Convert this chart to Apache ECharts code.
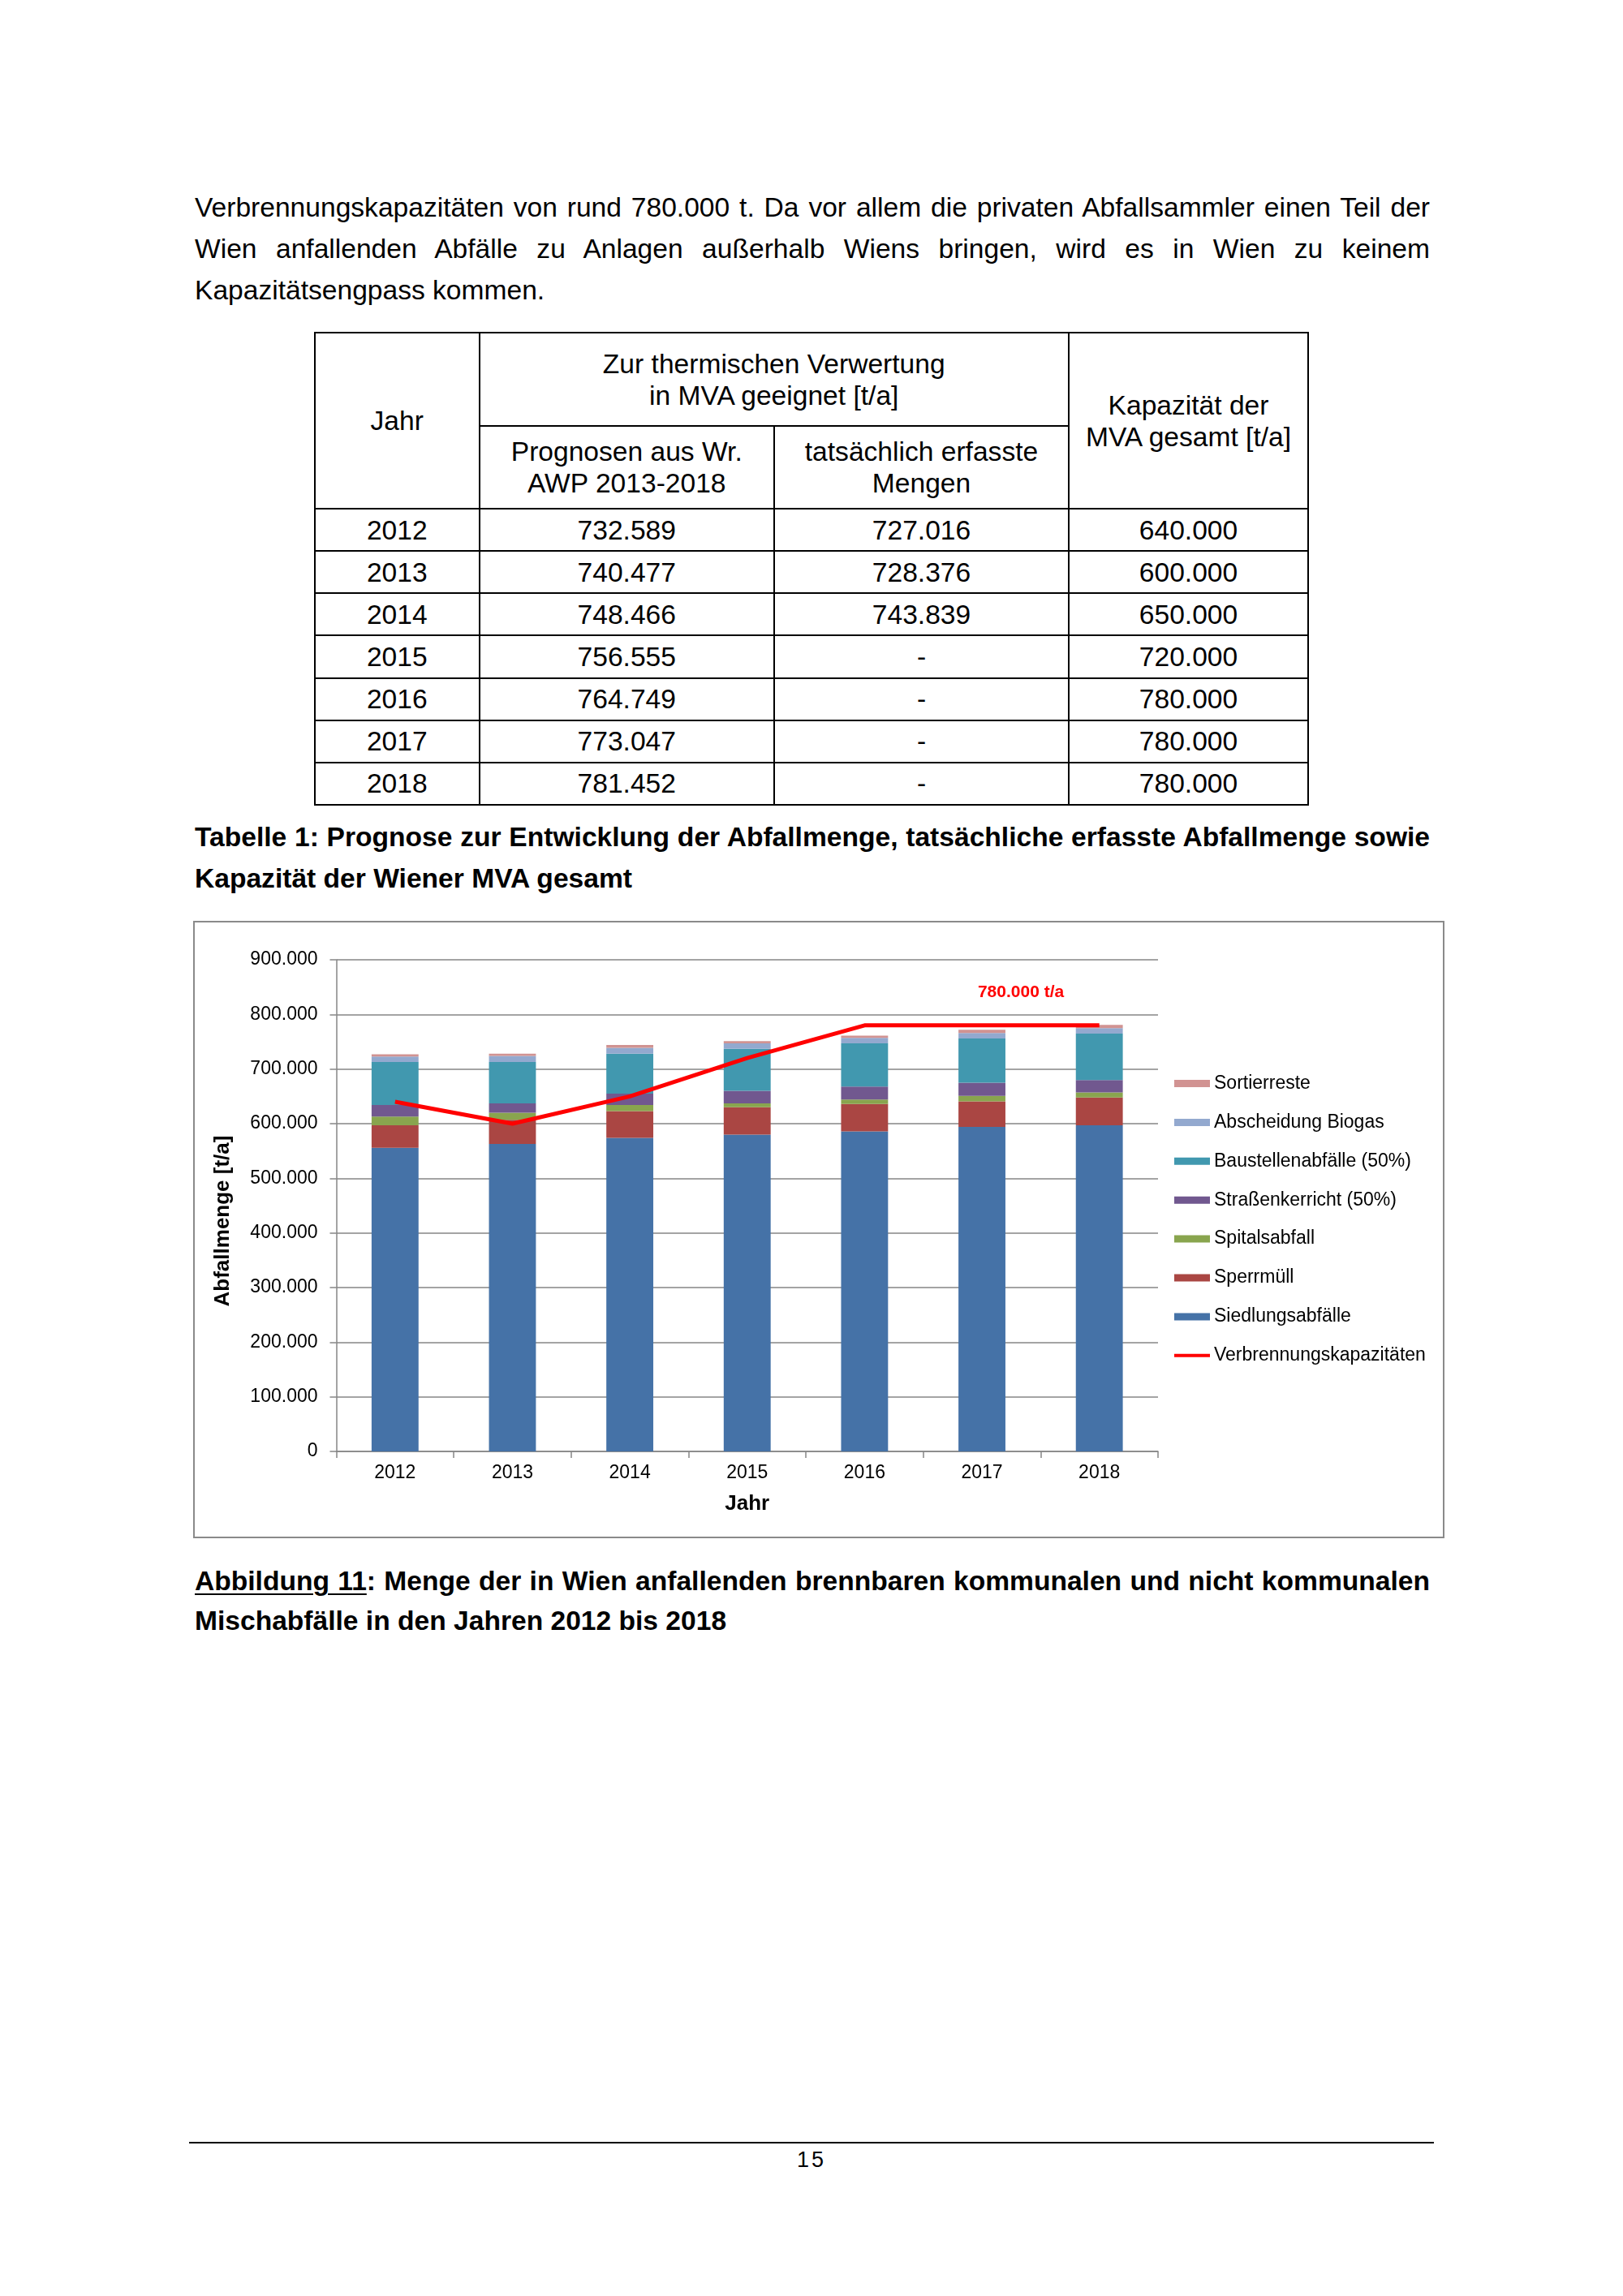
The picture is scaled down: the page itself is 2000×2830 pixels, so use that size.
<!DOCTYPE html>
<html>
<head>
<meta charset="utf-8">
<script src="https://cdn.jsdelivr.net/npm/echarts@6.0.0/dist/echarts.min.js"></script>
<style>
  html, body { margin: 0; padding: 0; background: #fff; }
  #page { position: relative; width: 2000px; height: 2830px; background: #fff; overflow: hidden;
          font-family: "Liberation Sans", Arial, Helvetica, sans-serif; color: #000; }
  .para { position: absolute; left: 240px; width: 1522px; font-size: 33.6px; line-height: 51px; }
  .jl { text-align: justify; text-align-last: justify; white-space: normal; }
  .ll { text-align: left; }
  .bold { font-weight: bold; }
  .hl { position: absolute; height: 2px; background: #000; }
  .vl { position: absolute; width: 2px; background: #000; }
  .cell { position: absolute; display: flex; align-items: center; justify-content: center;
          text-align: center; font-size: 33.6px; line-height: 39px; }
  #frame { position: absolute; left: 238px; top: 1135px; width: 1542px; height: 761px;
           box-sizing: border-box; border: 2px solid #8a8a8a; pointer-events: none; }
  #chart { position: absolute; left: 238px; top: 1135px; width: 1542px; height: 761px; }
</style>
</head>
<body>
<div id="page">
  <div class="para" style="top:230px;">
    <div class="jl">Verbrennungskapazitäten von rund 780.000 t. Da vor allem die privaten Abfallsammler einen Teil der</div>
    <div class="jl">Wien anfallenden Abfälle zu Anlagen außerhalb Wiens bringen, wird es in Wien zu keinem</div>
    <div class="ll">Kapazitätsengpass kommen.</div>
  </div>

  <div id="table"></div>

  <div class="para bold" style="top:1006px;">
    <div class="jl" style="word-spacing:-3px;">Tabelle 1: Prognose zur Entwicklung der Abfallmenge, tatsächliche erfasste Abfallmenge sowie</div>
    <div class="ll">Kapazität der Wiener MVA gesamt</div>
  </div>

  <div id="chart"></div>
  <div id="frame"></div>

  <div class="para bold" style="top:1924px; line-height:49px;">
    <div class="jl" style="word-spacing:-3px;"><span style="text-decoration:underline; text-decoration-thickness:2px; text-underline-offset:4px;">Abbildung 11</span>: Menge der in Wien anfallenden brennbaren kommunalen und nicht kommunalen</div>
    <div class="ll">Mischabfälle in den Jahren 2012 bis 2018</div>
  </div>

  <div class="hl" style="left:233px; top:2640px; width:1534px;"></div>
  <div style="position:absolute; left:900px; width:200px; top:2645px; text-align:center; font-size:27px; line-height:34px; letter-spacing:3px;">15</div>
</div>

<script>
// ---------- Data ----------
const years = ['2012', '2013', '2014', '2015', '2016', '2017', '2018'];

// stacked bar segments [t/a]
const siedlungsabfaelle  = [556000, 563000, 574000, 580000, 586000, 594000, 597000];
const sperrmuell         = [41000, 44000, 49000, 50000, 50000, 47000, 51000];
const spitalsabfall      = [16000, 13000, 11000, 7000, 8000, 10000, 9000];
const strassenkehricht   = [21000, 17000, 21000, 23000, 24000, 24000, 23000];
const baustellenabfaelle = [79000, 76000, 73000, 77000, 79000, 81000, 85000];
const abscheidungBiogas  = [10000, 11000, 11000, 10000, 10000, 10000, 10000];
const sortierreste       = [4000, 4000, 5000, 4000, 4000, 6000, 6000];

// Verbrennungskapazitäten [t/a]
const kapazitaet = [640000, 600000, 650000, 720000, 780000, 780000, 780000];

// table columns
const prognosen = ['732.589', '740.477', '748.466', '756.555', '764.749', '773.047', '781.452'];
const erfasst   = ['727.016', '728.376', '743.839', '-', '-', '-', '-'];

const yTicks = { min: 0, max: 900000, interval: 100000 };
const capLabel = '780.000 t/a';

// ---------- helpers ----------
function fmt(v) { return String(v).replace(/\B(?=(\d{3})+(?!\d))/g, '.'); }

// ---------- table ----------
(function buildTable() {
  const t = document.getElementById('table');
  const X = [388, 590.5, 954, 1317, 1612];
  const yTop = 410, ySplit = 525, yHead = 627;
  const rowH = (992 - yHead) / years.length;
  const yBottom = yHead + rowH * years.length;
  let html = '';
  function h(x1, x2, y) { html += `<div class="hl" style="left:${x1 - 1}px;top:${y - 1}px;width:${x2 - x1 + 2}px"></div>`; }
  function v(x, y1, y2) { html += `<div class="vl" style="left:${x - 1}px;top:${y1 - 1}px;height:${y2 - y1 + 2}px"></div>`; }
  function c(x1, x2, y1, y2, txt) { html += `<div class="cell" style="left:${x1}px;top:${y1}px;width:${x2 - x1}px;height:${y2 - y1}px">${txt}</div>`; }
  h(X[0], X[4], yTop);
  h(X[1], X[3], ySplit);
  h(X[0], X[4], yHead);
  for (let i = 1; i <= years.length; i++) h(X[0], X[4], yHead + rowH * i);
  v(X[0], yTop, yBottom); v(X[1], yTop, yBottom); v(X[2], ySplit, yBottom);
  v(X[3], yTop, yBottom); v(X[4], yTop, yBottom);
  c(X[0], X[1], yTop, yHead, 'Jahr');
  c(X[1], X[3], yTop, ySplit, 'Zur thermischen Verwertung<br>in MVA geeignet [t/a]');
  c(X[3], X[4], yTop, yHead, 'Kapazität der<br>MVA gesamt [t/a]');
  c(X[1], X[2], ySplit, yHead, 'Prognosen aus Wr.<br>AWP 2013-2018');
  c(X[2], X[3], ySplit, yHead, 'tatsächlich erfasste<br>Mengen');
  years.forEach((yr, i) => {
    const y1 = yHead + rowH * i, y2 = y1 + rowH;
    c(X[0], X[1], y1, y2, yr);
    c(X[1], X[2], y1, y2, prognosen[i]);
    c(X[2], X[3], y1, y2, erfasst[i]);
    c(X[3], X[4], y1, y2, fmt(kapazitaet[i]));
  });
  t.innerHTML = html;
})();

// ---------- chart ----------
const FONT = '"Liberation Sans", Arial, Helvetica, sans-serif';
const chart = echarts.init(document.getElementById('chart'), null, { renderer: 'canvas' });

const barDefs = [
  { name: 'Siedlungsabfälle', data: siedlungsabfaelle, color: '#4572A7' },
  { name: 'Sperrmüll', data: sperrmuell, color: '#AA4643' },
  { name: 'Spitalsabfall', data: spitalsabfall, color: '#89A54E' },
  { name: 'Straßenkerricht (50%)', data: strassenkehricht, color: '#71588F' },
  { name: 'Baustellenabfälle (50%)', data: baustellenabfaelle, color: '#4198AF' },
  { name: 'Abscheidung Biogas', data: abscheidungBiogas, color: '#93A9CF' },
  { name: 'Sortierreste', data: sortierreste, color: '#D19392' }
];

const series = barDefs.map(d => ({
  name: d.name,
  type: 'bar',
  stack: 'total',
  barWidth: '40%',
  data: d.data,
  itemStyle: { color: d.color },
  emphasis: { disabled: true }
}));

series.push({
  name: 'Verbrennungskapazitäten',
  type: 'line',
  data: kapazitaet,
  symbol: 'none',
  lineStyle: { color: '#FF0000', width: 5 },
  itemStyle: { color: '#FF0000' },
  z: 10,
  markPoint: {
    symbol: 'circle',
    symbolSize: 0,
    silent: true,
    data: [{ coord: [years[5], kapazitaet[5]], value: capLabel }],
    label: {
      show: true,
      formatter: capLabel,
      position: 'top',
      distance: 5,
      offset: [48, -25],
      color: '#FF0000',
      fontWeight: 'bold',
      fontSize: 21,
      fontFamily: FONT
    }
  }
});

const legendOrder = barDefs.slice().reverse().map(d => ({ name: d.name, icon: 'rect' }));
legendOrder.push({
  name: 'Verbrennungskapazitäten',
  itemStyle: { color: 'rgba(0,0,0,0)', borderColor: 'rgba(0,0,0,0)', borderWidth: 0, opacity: 0 },
  lineStyle: { color: '#FF0000', width: 4 }
});

chart.setOption({
  animation: false,
  backgroundColor: '#ffffff',
  textStyle: { fontFamily: FONT },
  grid: { left: 176.5, right: 353, top: 48, bottom: 107, containLabel: false },
  legend: {
    orient: 'vertical',
    left: 1202,
    top: 184,
    itemWidth: 44,
    itemHeight: 9,
    itemGap: 24.9,
    selectedMode: false,
    data: legendOrder,
    textStyle: { fontSize: 23, color: '#000', fontFamily: FONT, lineHeight: 23 }
  },
  xAxis: {
    type: 'category',
    data: years,
    name: 'Jahr',
    nameLocation: 'middle',
    nameGap: 52,
    nameTextStyle: { fontSize: 26, fontWeight: 'bold', color: '#000', fontFamily: FONT },
    axisLine: { show: true, lineStyle: { color: '#868686', width: 1.5 } },
    axisTick: { show: true, length: 8, lineStyle: { color: '#868686', width: 1.5 } },
    axisLabel: { fontSize: 23, color: '#000', margin: 15, fontFamily: FONT }
  },
  yAxis: {
    type: 'value',
    min: yTicks.min,
    max: yTicks.max,
    interval: yTicks.interval,
    name: 'Abfallmenge [t/a]',
    nameLocation: 'middle',
    nameRotate: 90,
    nameGap: 127,
    nameTextStyle: { fontSize: 26, fontWeight: 'bold', color: '#000', fontFamily: FONT, padding: [0, 38, 0, 0] },
    axisLine: { show: true, lineStyle: { color: '#868686', width: 1.5 } },
    axisTick: { show: true, length: 8, lineStyle: { color: '#868686', width: 1.5 } },
    splitLine: { show: true, lineStyle: { color: '#868686', width: 1.5 } },
    axisLabel: { fontSize: 23, color: '#000', margin: 23, fontFamily: FONT, formatter: v => fmt(v) }
  },
  series: series
});
</script>
</body>
</html>
